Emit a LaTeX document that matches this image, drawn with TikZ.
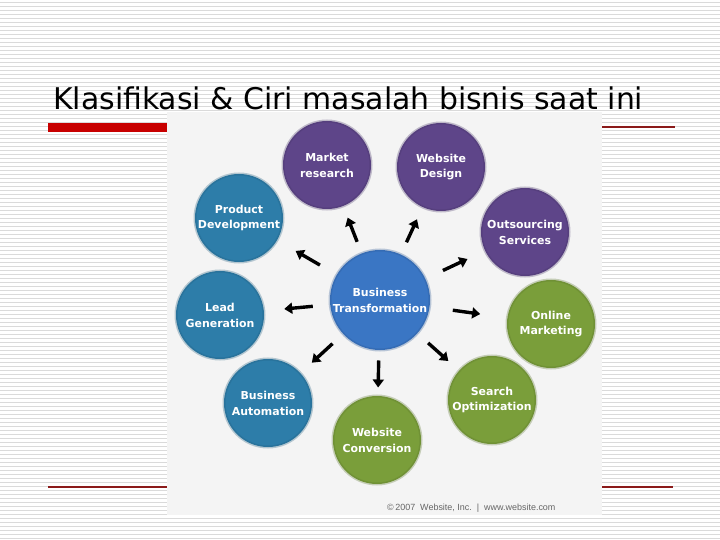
\documentclass[tikz,border=0pt]{standalone}
\usepackage{fontspec}
\setmainfont{DejaVu Sans}
\newfontfamily\lblfont{DejaVu Sans}
\newfontfamily\smallfont{Liberation Sans}
\usetikzlibrary{arrows.meta}
\definecolor{purp}{HTML}{5E4589}
\definecolor{teal}{HTML}{2D7DA9}
\definecolor{grn}{HTML}{7A9E3A}
\definecolor{cblue}{HTML}{3A76C4}
\definecolor{imgbg}{HTML}{F4F4F4}
\definecolor{stripe}{HTML}{DADADA}
\definecolor{redbar}{HTML}{C80000}
\definecolor{thinred}{HTML}{8B1A1A}
\tikzset{
  stripeline/.style={draw=stripe, line width=0.9bp},
  bubble/.style={circle, minimum size=88bp, inner sep=0pt, align=center,
    fill=#1, draw=#1!75!black, draw opacity=0.3, line width=3bp,
    text=white, font=\lblfont\bfseries\fontsize{11}{16}\selectfont},
  arr/.style={line width=3.4bp, -{Triangle[length=8bp,width=11bp]}},
  thinline/.style={draw=thinred, line width=1.1bp}
}
\begin{document}
\begin{tikzpicture}[x=1bp,y=-1bp]
\useasboundingbox (0,0) rectangle (720,540);
\fill[white] (0,0) rectangle (720,540);
\foreach \yy in {2,6,...,538} \draw[stripeline] (0,\yy) -- (720,\yy);
% title
\node[anchor=base west, inner sep=0pt, font=\fontsize{30}{34}\selectfont] (title) at (53,110) {Klasifikasi \& Ciri masalah bisnis saat ini};
% red bar and thin lines
\fill[redbar] (48,123) rectangle (167,132);
\draw[thinline] (602,127) -- (675,127);
\draw[thinline] (48,487) -- (167,487);
\draw[thinline] (602,487) -- (673,487);
% image background
\fill[imgbg] (167,112) rectangle (602,515);
% bubbles
\node[bubble=cblue, minimum size=100bp] (bt) at (380,300) {Business\\Transformation};
\node[bubble=purp] (mr) at (327,165) {Market\\research};
\node[bubble=purp] (wd) at (441,167) {Website\\Design};
\node[bubble=purp] (os) at (525,232) {Outsourcing\\Services};
\node[bubble=teal] (pd) at (239,218) {Product\\Development};
\node[bubble=teal] (lg) at (220,315) {Lead\\Generation};
\node[bubble=teal] (ba) at (268,403) {Business\\Automation};
\node[bubble=grn] (om) at (551,324) {Online\\Marketing};
\node[bubble=grn] (so) at (492,400) {Search\\Optimization};
\node[bubble=grn] (wc) at (377,440) {Website\\Conversion};
% arrows
\draw[arr, shorten <=11bp, shorten >=11bp] (bt) -- (mr);
\draw[arr, shorten <=12bp, shorten >=12bp] (bt) -- (wd);
\draw[arr, shorten <=18bp, shorten >=18bp] (bt) -- (os);
\draw[arr, shorten <=22bp, shorten >=26bp] (bt) -- (om);
\draw[arr, shorten <=13bp, shorten >=13bp] (bt) -- (so);
\draw[arr, shorten <=9bp, shorten >=7bp] (bt) -- (wc);
\draw[arr, shorten <=13bp, shorten >=14bp] (bt) -- (ba);
\draw[arr, shorten <=16bp, shorten >=19bp] (bt) -- (lg);
\draw[arr, shorten <=18bp, shorten >=20bp] (bt) -- (pd);
% copyright
\node[font=\smallfont\fontsize{9}{10}\selectfont, text=gray!80!black, anchor=west, inner sep=0pt] (copy) at (387,508) {\textcopyright\,2007\ \ Website, Inc.\ \ |\ \ www.website.com};
\end{tikzpicture}
\end{document}
